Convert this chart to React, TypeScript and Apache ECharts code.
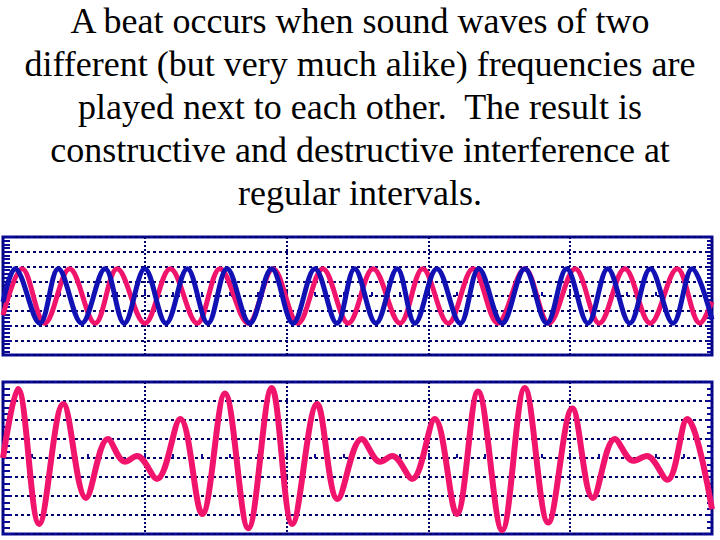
import React, { useEffect, useRef } from "react";
import * as echarts from "echarts";

const titleLines = [
  "A beat occurs when sound waves of two",
  "different (but very much alike) frequencies are",
  "played next to each other.  The result is",
  "constructive and destructive interference at",
  "regular intervals.",
];

// top panel: blue wave (higher frequency), extremes
const blueX = [0, 0.17, 0.52, 0.78, 1.11, 1.44, 1.71, 2.0, 2.3, 2.6, 2.89, 3.16, 3.48, 3.79, 4.09, 4.4, 4.71, 4.96, 5.26, 5.56, 5.81, 6.12, 6.45, 6.71, 7.04, 7.36, 7.67, 7.95, 8.25, 8.53, 8.84, 9.13, 9.45, 9.72, 10.0];
const blueY = [-0.4, 1.85, -1.85, 1.85, -1.85, 1.85, -1.85, 1.85, -1.85, 1.85, -1.85, 1.85, -1.85, 1.85, -1.85, 1.85, -1.85, 1.85, -1.85, 1.85, -1.85, 1.85, -1.85, 1.85, -1.85, 1.85, -1.85, 1.85, -1.85, 1.85, -1.85, 1.85, -1.85, 1.85, -1.6];

// top panel: pink wave (lower frequency)
const pinkX = [0, 0.27, 0.59, 0.94, 1.3, 1.61, 2.0, 2.36, 2.74, 3.06, 3.46, 3.81, 4.16, 4.51, 4.87, 5.22, 5.6, 5.92, 6.28, 6.63, 6.98, 7.36, 7.7, 8.07, 8.41, 8.77, 9.13, 9.51, 9.83, 10.0];
const pinkY = [-1.3, 1.85, -1.85, 1.85, -1.85, 1.85, -1.85, 1.85, -1.85, 1.85, -1.85, 1.85, -1.85, 1.85, -1.85, 1.85, -1.85, 1.85, -1.85, 1.85, -1.85, 1.85, -1.85, 1.85, -1.85, 1.85, -1.85, 1.85, -1.85, -0.4];

// bottom panel: resulting beat
const beatX = [0, 0.21, 0.51, 0.85, 1.17, 1.48, 1.72, 1.89, 2.17, 2.5, 2.81, 3.13, 3.46, 3.79, 4.08, 4.43, 4.72, 5.06, 5.32, 5.49, 5.77, 6.09, 6.4, 6.7, 7.04, 7.36, 7.69, 8.03, 8.32, 8.63, 8.89, 9.08, 9.37, 9.65, 10.0];
const beatY = [0.0, 3.63, -3.47, 2.84, -2.1, 1.0, -0.2, 0.1, -1.1, 2.05, -2.95, 3.4, -3.7, 3.68, -3.47, 2.84, -2.16, 1.0, -0.2, 0.1, -1.1, 2.05, -2.95, 3.5, -3.8, 3.68, -3.4, 2.6, -2.1, 1.0, -0.15, 0.1, -1.15, 2.05, -2.7];

const NAVY = "#0a0a96";
const GRIDC = "#00006e";
const BLUE = "#1212b4";
const PINK = "#f0146c";

const zip = (xs: number[], ys: number[]) => xs.map((x, i) => [x, ys[i]]);

function xAxisCfg(gridIndex: number) {
  return {
    type: "value",
    gridIndex,
    min: 0,
    max: 10,
    interval: 2,
    axisLine: { show: false },
    axisLabel: { show: false },
    axisTick: { show: true, inside: true, length: 5, lineStyle: { color: NAVY, width: 2 } },
    minorTick: { show: true, splitNumber: 5, length: 4, lineStyle: { color: NAVY, width: 2 } },
    splitLine: { show: true, lineStyle: { color: GRIDC, width: 2, type: [2, 2] } },
  };
}

function yAxisCfg(gridIndex: number, position: string, minorSplit: number) {
  const left = position === "left";
  return {
    type: "value",
    gridIndex,
    position,
    min: -4,
    max: 4,
    interval: 1,
    axisLine: { show: false },
    axisLabel: { show: false },
    axisTick: { show: true, inside: true, length: left ? 9 : 6, lineStyle: { color: NAVY, width: 2 } },
    minorTick: { show: true, splitNumber: minorSplit, length: left ? 7 : 5, lineStyle: { color: NAVY, width: 2 } },
    splitLine: { show: left, lineStyle: { color: GRIDC, width: 2, type: [3, 3] } },
  };
}

export default function App() {
  const ref = useRef<HTMLDivElement>(null);
  useEffect(() => {
    if (!ref.current) return;
    const chart = echarts.init(ref.current, undefined, { renderer: "svg" });
    chart.setOption({
      animation: false,
      backgroundColor: "#ffffff",
      graphic: titleLines.map((t, i) => ({
        type: "text",
        x: 360,
        y: 21 + 43 * i,
        style: {
          text: t,
          align: "center",
          verticalAlign: "middle",
          fontFamily: "Liberation Serif",
          fontSize: 36,
          fill: "#000000",
        },
      })),
      grid: [
        { left: 3, top: 237, width: 709, height: 118, show: true, borderColor: NAVY, borderWidth: 3, backgroundColor: "#ffffff" },
        { left: 3, top: 382, width: 709, height: 152, show: true, borderColor: NAVY, borderWidth: 3, backgroundColor: "#ffffff" },
      ],
      xAxis: [xAxisCfg(0), xAxisCfg(1)],
      yAxis: [yAxisCfg(0, "left", 4), yAxisCfg(0, "right", 4), yAxisCfg(1, "left", 3), yAxisCfg(1, "right", 3)],
      series: [
        {
          type: "line",
          xAxisIndex: 0,
          yAxisIndex: 0,
          data: zip(pinkX, pinkY),
          smooth: 0.36,
          showSymbol: false,
          lineStyle: { color: PINK, width: 5 },
        },
        {
          type: "line",
          xAxisIndex: 0,
          yAxisIndex: 0,
          data: zip(blueX, blueY),
          smooth: 0.36,
          showSymbol: false,
          lineStyle: { color: BLUE, width: 5 },
        },
        {
          type: "line",
          xAxisIndex: 1,
          yAxisIndex: 2,
          data: zip(beatX, beatY),
          smooth: 0.36,
          showSymbol: false,
          lineStyle: { color: PINK, width: 6 },
        },
      ],
    });
    return () => chart.dispose();
  }, []);
  return (
    <div
      ref={ref}
      style={{ position: "fixed", left: 0, top: 0, width: 720, height: 540, background: "#fff" }}
    />
  );
}
